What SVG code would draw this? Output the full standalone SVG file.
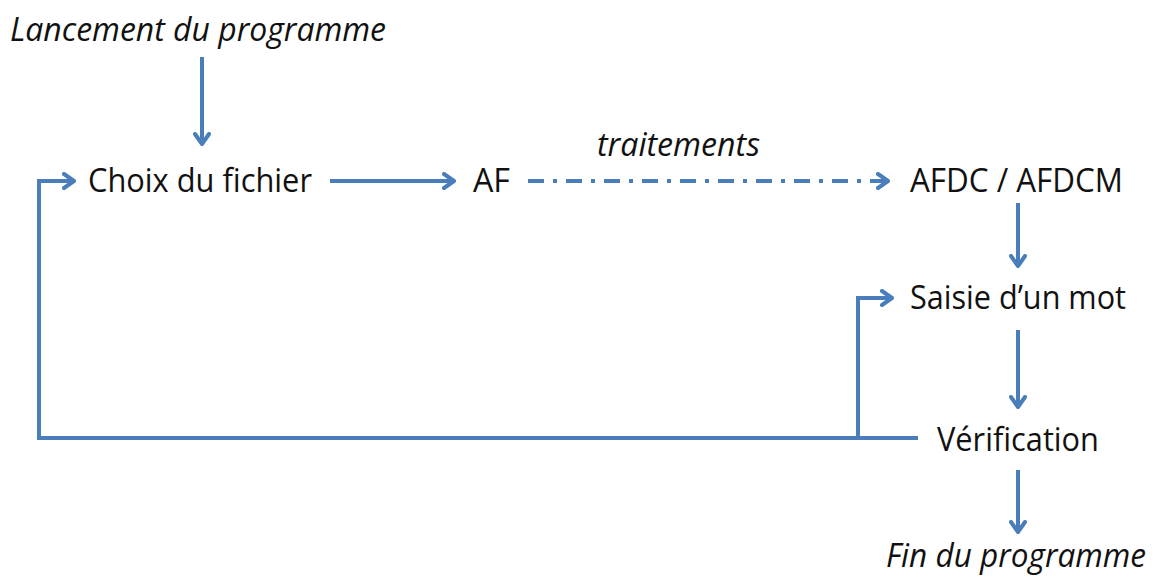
<svg xmlns="http://www.w3.org/2000/svg" width="1155" height="581" viewBox="0 0 1155 581">
<defs>
<marker id="ah" viewBox="0 0 14 18" refX="12" refY="9" markerWidth="14" markerHeight="18" markerUnits="userSpaceOnUse" orient="auto">
<path d="M2,2 L12,9 L2,16" fill="none" stroke="#4A7EBB" stroke-width="4" stroke-linecap="round" stroke-linejoin="round"/>
</marker>
<style>
.t{font-family:"Open Sans","Noto Sans",sans-serif;font-size:33px;fill:#111}
.i{font-style:italic}
.c{fill:none;stroke:#4A7EBB;stroke-width:4}
</style>
</defs>
<rect width="1155" height="581" fill="#fff"/>
<g id="connectors">
<path class="c" d="M202,57 V144" marker-end="url(#ah)"/>
<path class="c" d="M330,181 H454" marker-end="url(#ah)"/>
<path class="c" d="M528,181 H888" stroke-dasharray="16,9,4,9" marker-end="url(#ah)"/>
<path class="c" d="M1018,203 V266" marker-end="url(#ah)"/>
<path class="c" d="M1018,330 V407" marker-end="url(#ah)"/>
<path class="c" d="M1018,470 V532" marker-end="url(#ah)"/>
<path class="c" d="M918,438 H39 V181 H74" marker-end="url(#ah)"/>
<path class="c" d="M858,438 V298 H892" marker-end="url(#ah)"/>
</g>
<g id="start"><text class="t i" x="10" y="41" textLength="376" lengthAdjust="spacingAndGlyphs">Lancement du programme</text></g>
<g id="choix"><text class="t" x="88" y="192" textLength="224" lengthAdjust="spacingAndGlyphs">Choix du fichier</text></g>
<g id="af"><text class="t" x="473" y="192" textLength="37" lengthAdjust="spacingAndGlyphs">AF</text></g>
<g id="traitements"><text class="t i" x="597" y="156" textLength="163" lengthAdjust="spacingAndGlyphs">traitements</text></g>
<g id="afdc"><text class="t" x="910" y="192" textLength="213" lengthAdjust="spacingAndGlyphs">AFDC / AFDCM</text></g>
<g id="saisie"><text class="t" x="910" y="309" textLength="216" lengthAdjust="spacingAndGlyphs">Saisie d’un mot</text></g>
<g id="verif"><text class="t" x="937" y="451" textLength="162" lengthAdjust="spacingAndGlyphs">Vérification</text></g>
<g id="fin"><text class="t i" x="886" y="567" font-size="29" textLength="260" lengthAdjust="spacingAndGlyphs">Fin du programme</text></g>
</svg>
